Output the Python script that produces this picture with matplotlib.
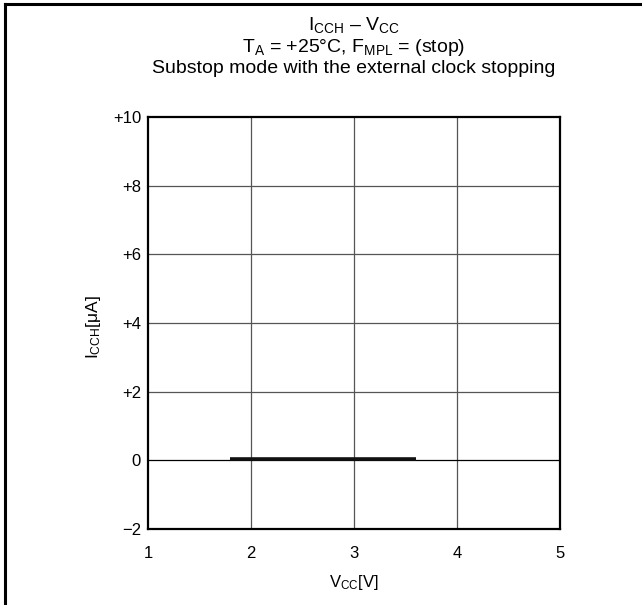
import matplotlib
matplotlib.use("Agg")
import matplotlib.pyplot as plt
from matplotlib.lines import Line2D

plt.rcParams["font.family"] = ["Liberation Sans", "DejaVu Sans"]
plt.rcParams["mathtext.fontset"] = "custom"
plt.rcParams["mathtext.rm"] = "Liberation Sans"
plt.rcParams["mathtext.it"] = "Liberation Sans"

# data
vcc = [1.8, 3.6]
icch = [0.05, 0.05]
x_ticks = [1, 2, 3, 4, 5]
y_ticks = [-2, 0, 2, 4, 6, 8, 10]
y_labels = ["\u22122", "0", "+2", "+4", "+6", "+8", "+10"]

fig = plt.figure(figsize=(6.42, 6.05), dpi=100)
W, H = 642, 605
ax = fig.add_axes([148 / W, 1 - 529 / H, (560 - 148) / W, (529 - 117) / H])

ax.set_xlim(1, 5)
ax.set_ylim(-2, 10)
ax.set_xticks(x_ticks)
ax.set_yticks(y_ticks)
ax.set_yticklabels(y_labels)
ax.tick_params(length=0, labelsize=12, pad=5)
ax.tick_params(axis="x", pad=12)

for x in x_ticks[1:-1]:
    ax.axvline(x, color="#555555", lw=0.9, zorder=1)
for y in y_ticks[1:-1]:
    ax.axhline(y, color="#555555" if y != 0 else "black", lw=0.9, zorder=1)

for s in ax.spines.values():
    s.set_linewidth(1.6)

ax.plot(vcc, icch, color="#111111", lw=2.6, solid_capstyle="butt", zorder=3)

ax.set_xlabel(r"V$_{\rm CC}$[V]", fontsize=12, labelpad=9)
ax.set_ylabel(r"I$_{\rm CCH}$[μA]", fontsize=12.5)
# label right edge at about x=103 px in the reference
ax.yaxis.set_label_coords(-(148 - 103) / 412, 0.49)

cx = (148 + 560) / 2 / W
fig.text(cx, 1 - 30 / H, "I$_{\\rm CCH}$ \u2013 V$_{\\rm CC}$",
         ha="center", va="baseline", fontsize=14)
fig.text(cx, 1 - 52 / H, r"T$_{\rm A}$ = +25°C, F$_{\rm MPL}$ = (stop)",
         ha="center", va="baseline", fontsize=14)
fig.text(cx, 1 - 73 / H, "Substop mode with the external clock stopping",
         ha="center", va="baseline", fontsize=14)

# frame lines at top and left edge of the figure
fig.add_artist(Line2D([5 / W, 1], [1 - 4 / H, 1 - 4 / H], color="black", lw=2.2))
fig.add_artist(Line2D([5 / W, 5 / W], [0, 1 - 4 / H], color="black", lw=2.2))

fig.savefig("out.png", dpi=100)
